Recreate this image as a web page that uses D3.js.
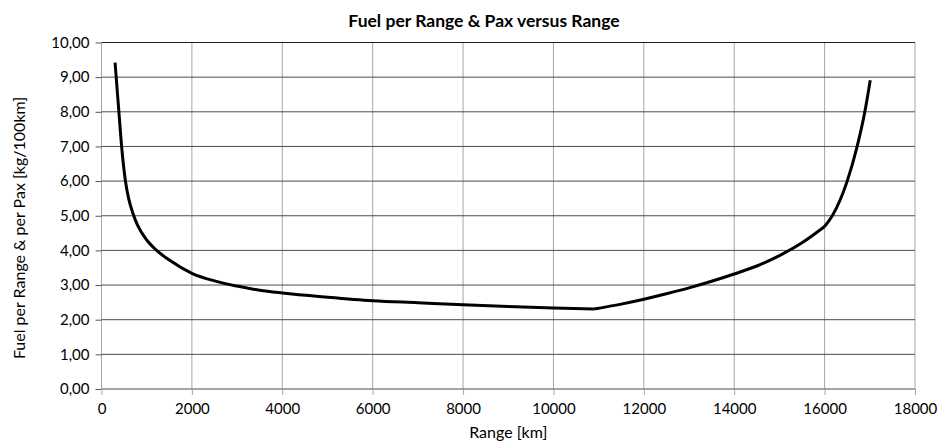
<!DOCTYPE html>
<html>
<head>
<meta charset="utf-8">
<script src="https://cdn.jsdelivr.net/npm/d3@7"></script>
<style>
  body { margin: 0; background: #fff; }
  text { font-family: Lato, "Open Sans", sans-serif; fill: #000; }
</style>
</head>
<body>
<div class="chart"></div>
<script>
// range in km and fuel per range & pax in kg/100km
var ranges = [300, 325, 385, 445, 530, 600, 700, 800, 1000, 1220, 1500,
    2000, 2500, 3000, 3500, 4000, 5000, 6000, 7000, 8000, 9000, 10000, 10900,
    11500, 12000, 12500, 13000, 13500, 14000, 14500, 15000, 15500, 16000,
    16170, 16500, 16720, 16890, 17010]
var fuel = [9.42, 9.00, 8.00, 7.00, 6.00, 5.50, 5.05, 4.72, 4.30, 4.00, 3.72,
    3.34, 3.12, 2.97, 2.85, 2.77, 2.65, 2.55, 2.49, 2.43, 2.38, 2.34, 2.31,
    2.45, 2.59, 2.75, 2.92, 3.11, 3.32, 3.55, 3.85, 4.22, 4.69,
    5.00, 6.00, 7.00, 8.00, 8.91]
// the curve has corners at these ranges
var kinks = [10900, 16000]
var xTicks = [0, 2000, 4000, 6000, 8000, 10000, 12000, 14000, 16000, 18000]
var yTicks = [0, 1, 2, 3, 4, 5, 6, 7, 8, 9, 10]

var margin = {top: 42.5, right: 23, bottom: 53, left: 101.5}
var W = 938, H = 442
var width = W - margin.left - margin.right
var height = H - margin.top - margin.bottom

var svg = d3.select('.chart')
    .append('svg')
    .attr('width', W)
    .attr('height', H)

var g = svg.append('g')
    .attr('transform', 'translate(' + margin.left + ',' + margin.top + ')')

var xScale = d3.scaleLinear().domain([0, 18000]).range([0, width])
var yScale = d3.scaleLinear().domain([0, 10]).range([height, 0])

// vertical grid
g.selectAll('.vgrid')
    .data(xTicks)
    .enter()
    .append('line')
    .attr('x1', function (d) { return xScale(d) })
    .attr('x2', function (d) { return xScale(d) })
    .attr('y1', 0)
    .attr('y2', height)
    .attr('stroke', '#a6a6a6')
    .attr('stroke-width', 1)

// horizontal grid
g.selectAll('.hgrid')
    .data(yTicks)
    .enter()
    .append('line')
    .attr('x1', 0)
    .attr('x2', width)
    .attr('y1', function (d) { return yScale(d) })
    .attr('y2', function (d) { return yScale(d) })
    .attr('stroke', function (d) { return d == 10 ? '#222' : '#4d4d4d' })
    .attr('stroke-width', 1)

// axes
var fmt = function (d) { return d3.format('.2f')(d).replace('.', ',') }
var yAxis = d3.axisLeft(yScale)
    .tickValues(yTicks)
    .tickFormat(fmt)
    .tickSize(6)
    .tickPadding(6)
var yg = g.append('g').call(yAxis)
yg.select('.domain').remove()
yg.selectAll('line').attr('stroke', '#555')
yg.selectAll('text').style('font-size', '15px').style('font-family', 'Lato, sans-serif')

var xAxis = d3.axisBottom(xScale)
    .tickValues(xTicks)
    .tickFormat(d3.format('d'))
    .tickSize(6)
    .tickPadding(8)
var xg = g.append('g')
    .attr('transform', 'translate(0,' + height + ')')
    .call(xAxis)
xg.select('.domain').remove()
xg.selectAll('line').attr('stroke', '#a6a6a6')
xg.selectAll('text').style('font-size', '15px').style('font-family', 'Lato, sans-serif')

// curve, drawn in pieces so the corners stay sharp
var pts = ranges.map(function (r, i) { return {x: r, y: fuel[i]} })
var bounds = [ranges[0]].concat(kinks).concat([ranges[ranges.length - 1]])
var line = d3.line()
    .x(function (d) { return xScale(d.x) })
    .y(function (d) { return yScale(d.y) })
    .curve(d3.curveMonotoneX)
for (var i = 0; i < bounds.length - 1; i++) {
    var seg = pts.filter(function (p) { return p.x >= bounds[i] && p.x <= bounds[i + 1] })
    g.append('path')
        .datum(seg)
        .attr('d', line)
        .attr('fill', 'none')
        .attr('stroke', '#000')
        .attr('stroke-width', 3)
        .attr('stroke-linejoin', 'round')
        .attr('stroke-linecap', 'butt')
}

// titles
svg.append('text')
    .attr('x', 484)
    .attr('y', 27)
    .attr('text-anchor', 'middle')
    .style('font-size', '17.5px')
    .style('font-weight', 'bold')
    .text('Fuel per Range & Pax versus Range')

svg.append('text')
    .attr('x', margin.left + width / 2)
    .attr('y', 438)
    .attr('text-anchor', 'middle')
    .style('font-size', '16px')
    .text('Range [km]')

svg.append('text')
    .attr('transform', 'translate(25,228) rotate(-90)')
    .attr('text-anchor', 'middle')
    .style('font-size', '16px')
    .text('Fuel per Range & per Pax [kg/100km]')
</script>
</body>
</html>
